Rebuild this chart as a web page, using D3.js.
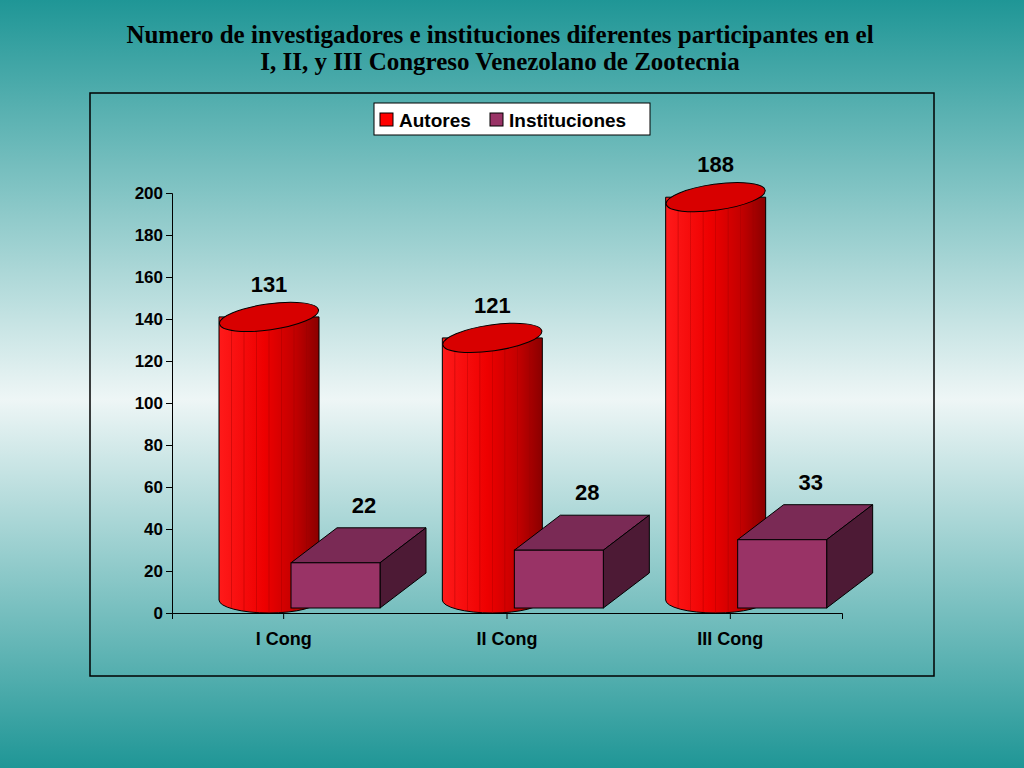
<!DOCTYPE html><html><head><meta charset="utf-8">
<script src="https://cdn.jsdelivr.net/npm/d3@7"></script>
<style>body{margin:0}svg{display:block}</style></head><body>
<script>
const categories=["I Cong","II Cong","III Cong"];
const autores=[131,121,188];
const instituciones=[22,28,33];
const yTicks=[0,20,40,60,80,100,120,140,160,180,200];
const W=1024,H=768;
const svg=d3.select("body").append("svg").attr("width",W).attr("height",H);
const defs=svg.append("defs");
const bg=defs.append("linearGradient").attr("id","bg").attr("x1",0).attr("y1",0).attr("x2",0).attr("y2",1);
[[0,"#1f9696"],[0.52,"#eef6f6"],[1,"#1f9696"]].forEach(s=>bg.append("stop").attr("offset",s[0]).attr("stop-color",s[1]));
const cg=defs.append("linearGradient").attr("id","cyl").attr("x1",0).attr("x2",1);
[[0,"#ff1a1a"],[0.45,"#ee0000"],[0.75,"#c40000"],[1,"#8a0000"]].forEach(s=>cg.append("stop").attr("offset",s[0]).attr("stop-color",s[1]));
svg.append("rect").attr("width",W).attr("height",H).attr("fill","url(#bg)");
svg.append("text").attr("x",500).attr("y",43).attr("text-anchor","middle").attr("font-family","Liberation Serif").attr("font-weight","bold").attr("font-size",25).text("Numero de investigadores e instituciones diferentes participantes en el");
svg.append("text").attr("x",500).attr("y",70).attr("text-anchor","middle").attr("font-family","Liberation Serif").attr("font-weight","bold").attr("font-size",25).text("I, II, y III Congreso Venezolano de Zootecnia");
svg.append("rect").attr("x",90).attr("y",93).attr("width",844).attr("height",583).attr("fill","none").attr("stroke","#000").attr("stroke-width",1.5);
const y=d3.scaleLinear().domain([0,200]).range([613,193]);
const x=d3.scaleBand().domain(categories).range([172,842]);
const ax=svg.append("g").attr("transform","translate(172,0)").call(d3.axisLeft(y).tickValues(yTicks).tickSize(6));
ax.selectAll("text").attr("font-family","Liberation Sans").attr("font-weight","bold").attr("font-size",17).attr("fill","#000");
const bx=svg.append("g").attr("transform","translate(0,613)").call(d3.axisBottom(x).tickSize(6).tickSizeOuter(6));
bx.selectAll("text").attr("font-family","Liberation Sans").attr("font-weight","bold").attr("font-size",18).attr("fill","#000").attr("dy","1.3em");
const font=(s)=>s.attr("font-family","Liberation Sans").attr("font-weight","bold").attr("font-size",22).attr("text-anchor","middle");
categories.forEach((c,i)=>{
  const x0=x(c);
  // cylinder
  const cx=x0+97,rx=50,ry=13,top=y(autores[i])-21,bot=600;
  svg.append("path").attr("d",`M${cx-rx},${top} L${cx-rx},${bot} A${rx},${ry} 0 0 0 ${cx+rx},${bot} L${cx+rx},${top} Z`).attr("fill","url(#cyl)").attr("stroke","#000").attr("stroke-width",1);
  for(let k=1;k<8;k++){const xx=cx-rx+k*12.5;svg.append("line").attr("x1",xx).attr("x2",xx).attr("y1",top).attr("y2",bot+ry*Math.sqrt(Math.max(0,1-((xx-cx)/rx)**2))).attr("stroke","#900").attr("stroke-width",0.6).attr("opacity",0.6);}
  svg.append("ellipse").attr("cx",cx).attr("cy",top).attr("rx",rx).attr("ry",ry).attr("fill","#d80000").attr("stroke","#000").attr("transform",`rotate(-8,${cx},${top})`);
  font(svg.append("text").attr("x",cx).attr("y",top-25)).text(autores[i]);
  // box
  const bx0=x0+119,bw=89,bt=y(instituciones[i])-4,bb=608,dx=46,dy=-35;
  svg.append("path").attr("d",`M${bx0},${bt} L${bx0+dx},${bt+dy} L${bx0+bw+dx},${bt+dy} L${bx0+bw},${bt} Z`).attr("fill","#7a2a55").attr("stroke","#000");
  svg.append("path").attr("d",`M${bx0+bw},${bt} L${bx0+bw+dx},${bt+dy} L${bx0+bw+dx},${bb+dy} L${bx0+bw},${bb} Z`).attr("fill","#4d1a35").attr("stroke","#000");
  svg.append("rect").attr("x",bx0).attr("y",bt).attr("width",bw).attr("height",bb-bt).attr("fill","#993366").attr("stroke","#000");
  font(svg.append("text").attr("x",bx0+dx+27).attr("y",bt+dy-15)).text(instituciones[i]);
});
// legend
svg.append("rect").attr("x",374).attr("y",103).attr("width",276).attr("height",32).attr("fill","#fff").attr("stroke","#000");
svg.append("rect").attr("x",380).attr("y",113).attr("width",13).attr("height",13).attr("fill","#ff0000").attr("stroke","#000");
svg.append("text").attr("x",399).attr("y",127).attr("font-family","Liberation Sans").attr("font-weight","bold").attr("font-size",19).text("Autores");
svg.append("rect").attr("x",490).attr("y",113).attr("width",13).attr("height",13).attr("fill","#993366").attr("stroke","#000");
svg.append("text").attr("x",509).attr("y",127).attr("font-family","Liberation Sans").attr("font-weight","bold").attr("font-size",19).text("Instituciones");
</script></body></html>
